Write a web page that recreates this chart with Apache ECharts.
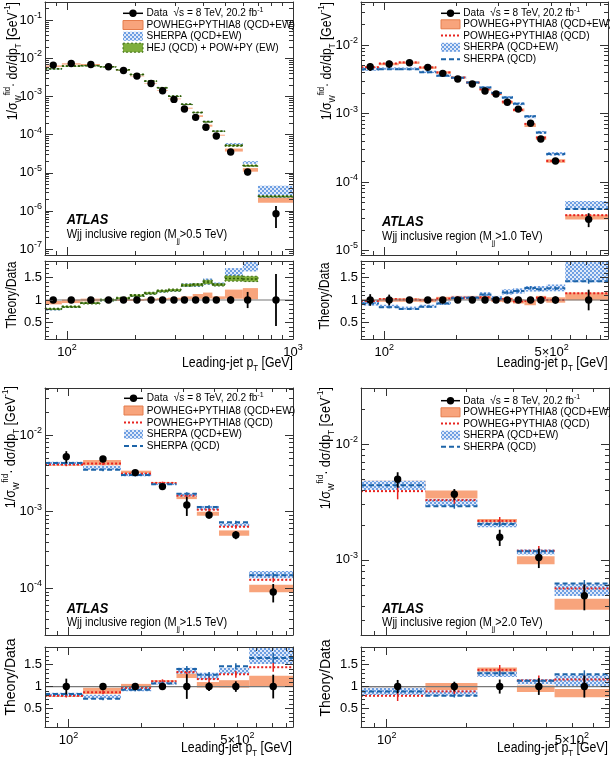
<!DOCTYPE html>
<html><head><meta charset="utf-8">
<script src="https://cdn.jsdelivr.net/npm/echarts@6/dist/echarts.min.js"></script>
<style>html,body{margin:0;padding:0;background:#fff}#c{width:610px;height:763px}</style>
</head><body><div id="c"></div>
<script>
// ================= DATA =================
// Panel 1: Mjj > 0.5 TeV
const p1Edges = [80,95,115,140,165,190,220,250,280,320,360,400,440,500,600,700,1000];
const p1DataX = [87,104.5,127.6,152.8,178,204,235.6,265,297.5,331,371,412,458,530,630,841];
const p1Data = [6.65e-3,7.36e-3,6.9e-3,6.0e-3,4.8e-3,3.43e-3,2.2e-3,1.42e-3,8.4e-4,4.7e-4,2.84e-4,1.56e-4,9.2e-5,3.5e-5,1.05e-5,8.5e-7];
const p1DataErr = [0.03,0.03,0.03,0.03,0.03,0.03,0.03,0.03,0.04,0.05,0.06,0.06,0.06,0.08,0.18,0.58];
const p1PowMain = [6.25e-3,7.14e-3,6.9e-3,6.0e-3,4.8e-3,3.43e-3,2.22e-3,1.45e-3,8.65e-4,4.94e-4,3.07e-4,1.72e-4,9.66e-5,3.96e-5,1.2e-5,2.0e-6];
const p1PowRatio = [0.94,0.97,1.00,1.00,1.00,1.00,1.01,1.02,1.03,1.05,1.08,1.10,1.05,1.13,1.14,null];
const p1PowErr = [0.04,0.04,0.03,0.02,0.02,0.02,0.02,0.02,0.02,0.03,0.05,0.06,0.03,0.09,0.11,0.18];
const p1SheMain = [5.25e-3,6.18e-3,6.42e-3,5.94e-3,4.99e-3,3.74e-3,2.51e-3,1.69e-3,1.02e-3,6.25e-4,3.78e-4,2.2e-4,1.24e-4,5.6e-5,1.87e-5,3.4e-6];
const p1SheRatio = [0.79,0.84,0.93,0.99,1.04,1.09,1.14,1.19,1.21,1.33,1.33,1.41,1.35,1.60,1.78,null];
const p1SheErr = [0.03,0.02,0.02,0.02,0.02,0.02,0.02,0.02,0.02,0.03,0.03,0.05,0.03,0.07,0.08,0.35];
const p1HejMain = [5.32e-3,6.26e-3,6.42e-3,6.0e-3,4.99e-3,3.77e-3,2.53e-3,1.70e-3,1.02e-3,6.25e-4,3.81e-4,2.18e-4,1.23e-4,5.18e-5,1.54e-5,2.4e-6];
const p1HejRatio = [0.80,0.85,0.93,1.00,1.04,1.10,1.15,1.20,1.22,1.33,1.34,1.40,1.34,1.48,1.47,null];
const p1HejErr = [0.02,0.02,0.02,0.02,0.02,0.02,0.02,0.02,0.02,0.02,0.02,0.03,0.02,0.04,0.04,0.04];

// Panel 2: Mjj > 1.0 TeV
const p2Edges = [80,95,115,140,165,190,220,250,280,310,345,385,430,475,570,860];
const p2DataX = [87.4,104.9,127.5,152,175.6,202.8,233.3,263.6,293,326.6,363,408.5,450.8,519,714];
const p2Data = [4.82e-3,5.28e-3,5.52e-3,4.72e-3,3.86e-3,3.19e-3,2.70e-3,2.13e-3,1.93e-3,1.46e-3,1.16e-3,7.2e-4,4.25e-4,2.03e-4,2.85e-5];
const p2DataErr = [0.13,0.12,0.05,0.06,0.04,0.04,0.04,0.05,0.05,0.06,0.07,0.07,0.08,0.08,0.23];
const p2PowMain = [4.68e-3,5.28e-3,5.52e-3,4.67e-3,3.98e-3,3.35e-3,2.84e-3,2.26e-3,1.93e-3,1.46e-3,1.13e-3,6.77e-4,4.38e-4,2.03e-4,3.08e-5];
const p2PowRatio = [0.97,1.00,1.00,0.99,1.03,1.05,1.05,1.06,1.00,1.00,0.97,0.94,1.03,1.00,1.08];
const p2PowErr = [0.04,0.04,0.04,0.04,0.04,0.04,0.04,0.04,0.04,0.05,0.05,0.06,0.06,0.06,0.08];
const p2PowQcdMain = [4.72e-3,5.39e-3,5.58e-3,4.72e-3,3.98e-3,3.35e-3,2.84e-3,2.26e-3,1.95e-3,1.49e-3,1.13e-3,7.06e-4,4.46e-4,2.03e-4,3.28e-5];
const p2PowQcdRatio = [0.98,1.02,1.01,1.00,1.03,1.05,1.05,1.06,1.01,1.02,0.97,0.98,1.05,1.00,1.15];
const p2PowQcdErr = [0.03,0.03,0.03,0.03,0.03,0.03,0.03,0.03,0.03,0.03,0.03,0.03,0.03,0.04,0.04];
const p2SheMain = [4.48e-3,4.54e-3,4.53e-3,4.06e-3,3.59e-3,3.35e-3,2.84e-3,2.41e-3,2.03e-3,1.72e-3,1.39e-3,9.0e-4,5.31e-4,2.58e-4,4.62e-5];
const p2SheRatio = [0.93,0.86,0.82,0.86,0.93,1.05,1.05,1.13,1.05,1.18,1.20,1.25,1.25,1.27,1.62];
const p2SheErr = [0.06,0.04,0.04,0.04,0.04,0.03,0.03,0.04,0.04,0.05,0.05,0.05,0.05,0.06,0.14];
const p2SheQcdMain = [4.43e-3,4.44e-3,4.42e-3,4.01e-3,3.55e-3,3.32e-3,2.84e-3,2.39e-3,1.99e-3,1.71e-3,1.39e-3,9.14e-4,5.27e-4,2.56e-4,4.05e-5];
const p2SheQcdRatio = [0.92,0.84,0.80,0.85,0.92,1.04,1.05,1.12,1.03,1.17,1.20,1.27,1.24,1.26,1.42];
const p2SheQcdErr = [0.03,0.03,0.03,0.03,0.03,0.03,0.03,0.03,0.03,0.03,0.03,0.03,0.03,0.03,0.04];

// Panel 3: Mjj > 1.5 TeV
const p3Edges = [80,115,165,220,280,340,420,560,850];
const p3DataX = [98,139,189,245,309,382,493,704];
const p3Data = [5.21e-3,4.87e-3,3.23e-3,2.12e-3,1.22e-3,9.05e-4,4.97e-4,8.96e-5];
const p3DataErr = [0.18,0.04,0.06,0.05,0.28,0.10,0.12,0.27];
const p3PowMain = [4.17e-3,4.38e-3,3.29e-3,2.33e-3,1.55e-3,9.41e-4,5.27e-4,1.0e-4];
const p3PowRatio = [0.80,0.90,1.02,1.10,1.27,1.04,1.06,1.12];
const p3PowErr = [0.05,0.08,0.04,0.04,0.06,0.06,0.08,0.11];
const p3PowQcdMain = [4.12e-3,4.24e-3,3.13e-3,2.37e-3,1.62e-3,1.06e-3,6.36e-4,1.29e-4];
const p3PowQcdRatio = [0.79,0.87,0.97,1.12,1.33,1.17,1.28,1.44];
const p3PowQcdErr = [0.05,0.05,0.04,0.04,0.05,0.06,0.06,0.07];
const p3SheMain = [4.27e-3,3.75e-3,3.04e-3,2.29e-3,1.66e-3,1.12e-3,6.76e-4,1.52e-4];
const p3SheRatio = [0.82,0.77,0.94,1.08,1.36,1.24,1.36,1.70];
const p3SheErr = [0.05,0.06,0.05,0.03,0.05,0.06,0.05,0.11];
const p3SheQcdMain = [4.32e-3,3.51e-3,3.0e-3,2.27e-3,1.71e-3,1.15e-3,7.26e-4,1.48e-4];
const p3SheQcdRatio = [0.83,0.72,0.93,1.07,1.40,1.27,1.46,1.65];
const p3SheQcdErr = [0.04,0.04,0.04,0.04,0.05,0.05,0.05,0.07];

// Panel 4: Mjj > 2.0 TeV
const p4Edges = [80,140,220,310,430,690];
const p4DataX = [110,180,267,375,557];
const p4Data = [4.96e-3,3.68e-3,1.57e-3,1.05e-3,4.9e-4];
const p4DataErr = [0.15,0.11,0.16,0.19,0.25];
const p4PowMain = [4.46e-3,3.68e-3,2.09e-3,9.98e-4,4.17e-4];
const p4PowRatio = [0.90,1.00,1.33,0.95,0.85];
const p4PowErr = [0.08,0.08,0.08,0.08,0.11];
const p4PowQcdMain = [3.92e-3,3.28e-3,2.17e-3,1.20e-3,5.68e-4];
const p4PowQcdRatio = [0.79,0.89,1.38,1.14,1.16];
const p4PowQcdErr = [0.15,0.08,0.08,0.10,0.10];
const p4SheMain = [4.41e-3,3.13e-3,2.01e-3,1.17e-3,5.54e-4];
const p4SheRatio = [0.89,0.85,1.28,1.11,1.13];
const p4SheErr = [0.09,0.07,0.05,0.05,0.12];
const p4SheQcdMain = [4.41e-3,2.91e-3,2.04e-3,1.19e-3,6.27e-4];
const p4SheQcdRatio = [0.89,0.79,1.30,1.13,1.28];
const p4SheQcdErr = [0.05,0.05,0.05,0.05,0.07];

// Tick values
const xMajorTicks = [100, 1000];
const xMinorTicks = [80, 90, 200, 300, 400, 500, 600, 700, 800, 900];
const p1XLabels = [100, 1000];
const pXLabels = [100, 500];
const ratioMajorTicks = [0.5, 1, 1.5];
const ratioMinorTicks = [0.2,0.3,0.4,0.6,0.7,0.8,0.9,1.1,1.2,1.3,1.4,1.6,1.7,1.8];

// ================= STYLE / LAYOUT =================
const FONT = '"Liberation Sans", Arial, Helvetica, sans-serif';
const SX = 0.88;
function makeHatch() {
  const c = document.createElement('canvas'); c.width = 4; c.height = 4;
  const g = c.getContext('2d');
  g.fillStyle = '#dfe9f9'; g.fillRect(0, 0, 4, 4);
  g.fillStyle = '#6e9fe2'; g.fillRect(0, 0, 2, 2); g.fillRect(2, 2, 2, 2);
  return { type: 'pattern', image: c, repeat: 'repeat' };
}
const HATCH = makeHatch();
const STY = {
  pow: { kind: 'band', fill: '#f8a47c', z: 2 },
  she: { kind: 'band', fill: HATCH, z: 3 },
  hej: { kind: 'band', fill: '#7fae3c', stroke: '#3e6e14', dash: [2, 2], center: '#2d5a08', centerDash: [2, 2], z: 4 },
  powQcd: { kind: 'line', color: '#e8231f', dash: [2, 2], width: 2, z: 5 },
  sheQcd: { kind: 'line', color: '#1d64a8', dash: [5, 3], width: 2, z: 6 }
};

const panels = [
  { edges: p1Edges, dx: p1DataX, data: p1Data, err: p1DataErr, x: [80, 1000], y: [7e-8, 0.3], xl: p1XLabels,
    th: [ { s: 'pow', m: p1PowMain, r: p1PowRatio, e: p1PowErr },
          { s: 'she', m: p1SheMain, r: p1SheRatio, e: p1SheErr },
          { s: 'hej', m: p1HejMain, r: p1HejRatio, e: p1HejErr } ] },
  { edges: p2Edges, dx: p2DataX, data: p2Data, err: p2DataErr, x: [80, 860], y: [8.6e-6, 0.0425], xl: pXLabels,
    th: [ { s: 'pow', m: p2PowMain, r: p2PowRatio, e: p2PowErr },
          { s: 'she', m: p2SheMain, r: p2SheRatio, e: p2SheErr },
          { s: 'powQcd', m: p2PowQcdMain, r: p2PowQcdRatio, e: p2PowQcdErr },
          { s: 'sheQcd', m: p2SheQcdMain, r: p2SheQcdRatio, e: p2SheQcdErr } ] },
  { edges: p3Edges, dx: p3DataX, data: p3Data, err: p3DataErr, x: [80, 850], y: [2.46e-5, 0.041], xl: pXLabels,
    th: [ { s: 'pow', m: p3PowMain, r: p3PowRatio, e: p3PowErr },
          { s: 'she', m: p3SheMain, r: p3SheRatio, e: p3SheErr },
          { s: 'powQcd', m: p3PowQcdMain, r: p3PowQcdRatio, e: p3PowQcdErr },
          { s: 'sheQcd', m: p3SheQcdMain, r: p3SheQcdRatio, e: p3SheQcdErr } ] },
  { edges: p4Edges, dx: p4DataX, data: p4Data, err: p4DataErr, x: [80, 690], y: [2.25e-4, 0.0304], xl: pXLabels,
    th: [ { s: 'pow', m: p4PowMain, r: p4PowRatio, e: p4PowErr },
          { s: 'she', m: p4SheMain, r: p4SheRatio, e: p4SheErr },
          { s: 'powQcd', m: p4PowQcdMain, r: p4PowQcdRatio, e: p4PowQcdErr },
          { s: 'sheQcd', m: p4SheQcdMain, r: p4SheQcdRatio, e: p4SheQcdErr } ] }
];

const layout = [
  { main: { left: 45, top: 2, width: 248, height: 253 }, ratio: { left: 45, top: 261, width: 248, height: 78 }, rr: [0.13, 1.87] },
  { main: { left: 361, top: 2, width: 247, height: 253 }, ratio: { left: 361, top: 261, width: 247, height: 78 }, rr: [0.13, 1.87] },
  { main: { left: 45, top: 388, width: 248, height: 247 }, ratio: { left: 45, top: 647, width: 248, height: 80 }, rr: [0.08, 1.9] },
  { main: { left: 361, top: 388, width: 248, height: 247 }, ratio: { left: 361, top: 647, width: 248, height: 80 }, rr: [0.08, 1.9] }
];

// ================= BUILD =================
const grids = [], xAxes = [], yAxes = [], series = [];
const RICH = {
  sup: { fontSize: 9, verticalAlign: 'top', lineHeight: 9, fontFamily: FONT, color: '#000' },
  sub: { fontSize: 9, verticalAlign: 'bottom', lineHeight: 9, fontFamily: FONT, color: '#000' }
};
function logFmt(v) {
  const e = Math.round(Math.log10(v));
  if (Math.abs(v / Math.pow(10, e) - 1) < 1e-6) return '10{sup|' + e + '}';
  const m = Math.round(v / Math.pow(10, Math.floor(Math.log10(v))));
  return m + '×10{sup|' + Math.floor(Math.log10(v)) + '}';
}
function logTickSets(min, max) {
  const maj = [], mnr = [];
  for (let e = -9; e <= 4; e++) {
    const b = Math.pow(10, e);
    if (b >= min && b <= max) maj.push(b);
    for (let k = 2; k <= 9; k++) { const v = k * b; if (v >= min && v <= max) mnr.push(v); }
  }
  return [maj, mnr];
}
function inRange(arr, lo, hi) { return arr.filter(v => v >= lo && v <= hi); }

function axisDef(g, type, min, max, pos, vals, len, lineShow, label) {
  return {
    gridIndex: g, type: type, min: min, max: max, position: pos, z: 20,
    axisLine: { show: lineShow, onZero: false, lineStyle: { color: '#333', width: 1 } },
    axisTick: { show: vals.length > 0, inside: true, length: len, customValues: vals.length ? vals : undefined, lineStyle: { color: '#333', width: 1 } },
    axisLabel: label || { show: false },
    splitLine: { show: false }, minorTick: { show: false }, minorSplitLine: { show: false }
  };
}

function addGrid(box, xr, yType, yr, yMaj, yMin, yLabelVals, yFmt, xLabelVals) {
  const g = grids.length;
  grids.push(Object.assign({ show: false, containLabel: false }, box));
  const xi = xAxes.length, yi = yAxes.length;
  const xMaj = inRange(xMajorTicks, xr[0], xr[1]), xMin = inRange(xMinorTicks, xr[0], xr[1]);
  const xLab = xLabelVals ? { show: true, customValues: xLabelVals, formatter: logFmt, fontSize: 13, lineHeight: 18, color: '#000', fontFamily: FONT, margin: 4, rich: RICH } : null;
  xAxes.push(axisDef(g, 'log', xr[0], xr[1], 'bottom', xMaj, 8, true, xLab));
  xAxes.push(axisDef(g, 'log', xr[0], xr[1], 'bottom', xMin, 4, false, null));
  xAxes.push(axisDef(g, 'log', xr[0], xr[1], 'top', xMaj, 8, true, null));
  xAxes.push(axisDef(g, 'log', xr[0], xr[1], 'top', xMin, 4, false, null));
  const yLab = { show: true, customValues: yLabelVals, formatter: yFmt, fontSize: 13, lineHeight: 18, color: '#000', fontFamily: FONT, margin: 3, rich: RICH };
  yAxes.push(axisDef(g, yType, yr[0], yr[1], 'left', yMaj, 8, true, yLab));
  yAxes.push(axisDef(g, yType, yr[0], yr[1], 'left', yMin, 4, false, null));
  yAxes.push(axisDef(g, yType, yr[0], yr[1], 'right', yMaj, 8, true, null));
  yAxes.push(axisDef(g, yType, yr[0], yr[1], 'right', yMin, 4, false, null));
  return { xi: xi, yi: yi };
}

function clipBox(cs) { return { x: cs.x, y: cs.y, width: cs.width, height: cs.height }; }

function bandRenderer(st) {
  return function (params, api) {
    const x0 = api.value(0), x1 = api.value(1), lo = api.value(2), hi = api.value(3), c = api.value(4);
    const cs = params.coordSys;
    const a = api.coord([x0, hi]), b = api.coord([x1, lo]);
    const r = echarts.graphic.clipRectByRect({ x: a[0], y: a[1], width: b[0] - a[0], height: b[1] - a[1] }, clipBox(cs));
    const ch = [];
    if (r) {
      const style = { fill: st.fill };
      if (st.stroke) { style.stroke = st.stroke; style.lineWidth = 1; style.lineDash = st.dash; }
      ch.push({ type: 'rect', shape: r, style: style });
    }
    if (st.center) {
      const m0 = api.coord([x0, c]), m1 = api.coord([x1, c]);
      if (m0[1] >= cs.y && m0[1] <= cs.y + cs.height)
        ch.push({ type: 'line', shape: { x1: m0[0], y1: m0[1], x2: m1[0], y2: m1[1] }, style: { stroke: st.center, lineWidth: 1.5, lineDash: st.centerDash } });
    }
    return { type: 'group', children: ch };
  };
}
function lineRenderer(st) {
  return function (params, api) {
    const x0 = api.value(0), x1 = api.value(1), v = api.value(2), lo = api.value(3), hi = api.value(4), xc = api.value(5);
    const cs = params.coordSys;
    const m0 = api.coord([x0, v]), m1 = api.coord([x1, v]);
    const ch = [];
    if (m0[1] >= cs.y && m0[1] <= cs.y + cs.height) {
      ch.push({ type: 'line', shape: { x1: m0[0], y1: m0[1], x2: m1[0], y2: m1[1] }, style: { stroke: st.color, lineWidth: st.width, lineDash: st.dash } });
      const t = api.coord([xc, hi]), bt = api.coord([xc, lo]);
      ch.push({ type: 'line', shape: { x1: t[0], y1: Math.max(t[1], cs.y), x2: bt[0], y2: Math.min(bt[1], cs.y + cs.height) }, style: { stroke: st.color, lineWidth: 1.5 } });
    }
    return { type: 'group', children: ch };
  };
}
function pointRenderer(params, api) {
  const x = api.value(0), v = api.value(1), lo = api.value(2), hi = api.value(3);
  const cs = params.coordSys;
  const p = api.coord([x, v]), t = api.coord([x, hi]), b = api.coord([x, lo]);
  return { type: 'group', children: [
    { type: 'line', shape: { x1: t[0], y1: Math.max(t[1], cs.y), x2: b[0], y2: Math.min(b[1], cs.y + cs.height) }, style: { stroke: '#000', lineWidth: 1.8 } },
    { type: 'circle', shape: { cx: p[0], cy: p[1], r: 3.7 }, style: { fill: '#000' } }
  ] };
}
function unityRenderer(params, api) {
  const a = api.coord([api.value(0), api.value(2)]), b = api.coord([api.value(1), api.value(2)]);
  return { type: 'line', shape: { x1: a[0], y1: a[1], x2: b[0], y2: b[1] }, style: { stroke: '#777', lineWidth: 1.2 } };
}

panels.forEach(function (P, k) {
  const L = layout[k];
  const [yMaj, yMin] = logTickSets(P.y[0], P.y[1]);
  const main = addGrid(L.main, P.x, 'log', P.y, yMaj, yMin, yMaj, logFmt, null);
  const rat = addGrid(L.ratio, P.x, 'value', L.rr, ratioMajorTicks, ratioMinorTicks, ratioMajorTicks, v => String(v), P.xl);
  P.th.forEach(function (T) {
    const st = STY[T.s];
    [[main, T.m], [rat, T.r]].forEach(function ([ax, vals]) {
      const items = [];
      vals.forEach(function (v, i) {
        if (v == null) return;
        const h = v * T.e[i];
        if (st.kind === 'band') items.push([P.edges[i], P.edges[i + 1], v - h, v + h, v]);
        else items.push([P.edges[i], P.edges[i + 1], v, v - h, v + h, P.dx[i]]);
      });
      series.push({
        type: 'custom', xAxisIndex: ax.xi, yAxisIndex: ax.yi, z: st.z, silent: true, animation: false,
        renderItem: st.kind === 'band' ? bandRenderer(st) : lineRenderer(st),
        encode: st.kind === 'band' ? { x: [0, 1], y: [2, 3, 4] } : { x: [0, 1, 5], y: [2, 3, 4] },
        data: items
      });
    });
  });
  series.push({
    type: 'custom', xAxisIndex: rat.xi, yAxisIndex: rat.yi, z: 7, silent: true, animation: false,
    renderItem: unityRenderer, encode: { x: [0, 1], y: 2 }, data: [[P.x[0], P.x[1], 1]]
  });
  series.push({
    type: 'custom', xAxisIndex: main.xi, yAxisIndex: main.yi, z: 10, silent: true, animation: false,
    renderItem: pointRenderer, encode: { x: 0, y: [1, 2, 3] },
    data: P.data.map((v, i) => [P.dx[i], v, v * (1 - P.err[i]), v * (1 + P.err[i])])
  });
  series.push({
    type: 'custom', xAxisIndex: rat.xi, yAxisIndex: rat.yi, z: 10, silent: true, animation: false,
    renderItem: pointRenderer, encode: { x: 0, y: [1, 2, 3] },
    data: P.data.map((v, i) => [P.dx[i], 1, 1 - P.err[i], 1 + P.err[i]])
  });
});

// ================= TEXT / LEGENDS =================
const graphics = [];
function txt(x, y, text, o) {
  o = o || {};
  const st = {
    text: text, x: 0, y: 0, fill: '#000',
    fontSize: o.size || 12, fontFamily: FONT, fontWeight: o.weight || 'normal', fontStyle: o.style || 'normal',
    align: o.align || 'left', verticalAlign: o.valign || 'middle',
    textAlign: o.align || 'left', textVerticalAlign: o.valign || 'middle',
    lineHeight: o.lh || 16,
    rich: {
      sup: { fontSize: o.supSize || 8, verticalAlign: 'top', lineHeight: 8, fontFamily: FONT, fill: '#000', color: '#000' },
      sub: { fontSize: o.supSize || 8, verticalAlign: 'bottom', lineHeight: 8, fontFamily: FONT, fill: '#000', color: '#000' }
    }
  };
  graphics.push({ type: 'text', x: x, y: y, rotation: o.rot || 0, scaleX: o.sx == null ? SX : o.sx, scaleY: 1, z: 100, style: st, silent: true });
}
const legendText = {
  data: 'Data  √s = 8 TeV, 20.2 fb{sup|-1}',
  pow: 'POWHEG+PYTHIA8 (QCD+EW)',
  powQcd: 'POWHEG+PYTHIA8 (QCD)',
  she: 'SHERPA (QCD+EW)',
  sheQcd: 'SHERPA (QCD)',
  hej: 'HEJ (QCD) + POW+PY (EW)'
};
const legends = [
  { keys: ['data', 'pow', 'she', 'hej'], ix: [123, 143], tx: 146.5, rows: [13.3, 25, 36.3, 47.7] },
  { keys: ['data', 'pow', 'powQcd', 'she', 'sheQcd'], ix: [441, 460], tx: 463.3, rows: [13.3, 24.3, 35.5, 47.3, 59.3] },
  { keys: ['data', 'pow', 'powQcd', 'she', 'sheQcd'], ix: [124, 143], tx: 146.7, rows: [398.3, 410.5, 422.5, 434.3, 446] },
  { keys: ['data', 'pow', 'powQcd', 'she', 'sheQcd'], ix: [441, 460], tx: 463.3, rows: [400.7, 412.3, 423.6, 435.2, 446.8] }
];
legends.forEach(function (Lg) {
  Lg.keys.forEach(function (key, i) {
    const y = Lg.rows[i], x0 = Lg.ix[0], x1 = Lg.ix[1];
    if (key === 'data') {
      graphics.push({ type: 'line', z: 100, shape: { x1: x0, y1: y, x2: x1, y2: y }, style: { stroke: '#000', lineWidth: 1.5 } });
      graphics.push({ type: 'circle', z: 100, shape: { cx: (x0 + x1) / 2, cy: y, r: 3.7 }, style: { fill: '#000' } });
    } else if (STY[key].kind === 'band') {
      const st = STY[key];
      const s = { fill: st.fill };
      if (key === 'pow') { s.stroke = '#e47c4c'; s.lineWidth = 1; }
      if (st.stroke) { s.stroke = st.stroke; s.lineWidth = 1; s.lineDash = st.dash; }
      graphics.push({ type: 'rect', z: 100, shape: { x: x0, y: y - 4.5, width: x1 - x0, height: 9 }, style: s });
    } else {
      const st = STY[key];
      graphics.push({ type: 'line', z: 100, shape: { x1: x0, y1: y, x2: x1, y2: y }, style: { stroke: st.color, lineWidth: st.width, lineDash: st.dash } });
    }
    txt(Lg.tx, y, legendText[key], { size: 11.5 });
  });
});
const regionText = ['0.5', '1.0', '1.5', '2.0'];
const atlasPos = [[66.7, 220, 235], [382, 221.7, 236.7], [66.7, 609.3, 622.5], [382, 609.3, 622.7]];
atlasPos.forEach(function (p, k) {
  txt(p[0], p[1], 'ATLAS', { size: 14.5, weight: 'bold', style: 'italic' });
  txt(p[0], p[2], 'Wjj inclusive region (M{sub|jj}>' + regionText[k] + ' TeV)', { size: 12.5, supSize: 8, lh: 20 });
});
const yTitle = '1/σ{sub|W}{sup|fid}· dσ/dp{sub|T} [GeV{sup|-1}]';
[[13, 2, 0.87], [327, 2, 0.87], [11, 386, 0.9], [326, 387, 0.9]].forEach(function (p) {
  txt(p[0], p[1], yTitle, { size: 14, align: 'right', rot: Math.PI / 2, sx: p[2], supSize: 9, lh: 20 });
});
[[12, 295, 0.87], [325, 296, 0.87], [11, 677, 1.0], [326, 678, 1.0]].forEach(function (p) {
  txt(p[0], p[1], 'Theory/Data', { size: 14, align: 'center', rot: Math.PI / 2, sx: p[2] });
});
[[293, 363], [607.7, 363], [292, 748], [608, 748]].forEach(function (p) {
  txt(p[0], p[1], 'Leading-jet p{sub|T} [GeV]', { size: 14, align: 'right', supSize: 9, lh: 20 });
});

const chart = echarts.init(document.getElementById('c'), null, { renderer: 'canvas', width: 610, height: 763 });
chart.setOption({
  animation: false,
  backgroundColor: '#fff',
  grid: grids, xAxis: xAxes, yAxis: yAxes, series: series,
  graphic: { elements: graphics }
});
</script>
</body></html>
